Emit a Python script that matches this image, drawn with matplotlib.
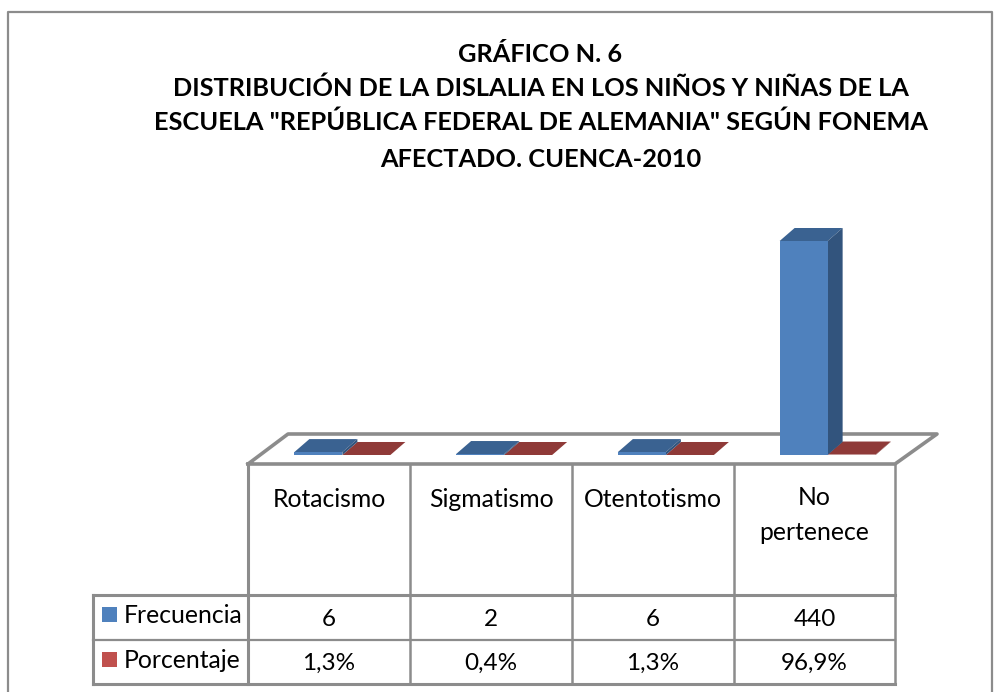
import numpy as np
import matplotlib
matplotlib.use('Agg')
import matplotlib.pyplot as plt
from matplotlib.patches import Polygon, Rectangle

plt.rcParams['font.family'] = ['Lato', 'DejaVu Sans']

categorias = ['Rotacismo', 'Sigmatismo', 'Otentotismo', 'No\npertenece']
frecuencia = [6, 2, 6, 440]
# stored as fractions, so they lie flat next to the counts
porcentaje = [0.013, 0.004, 0.013, 0.969]
porcentaje_txt = ['1,3%', '0,4%', '1,3%', '96,9%']
series = ['Frecuencia', 'Porcentaje']
titulo = ['GRÁFICO N. 6',
          'DISTRIBUCIÓN DE LA DISLALIA EN LOS NIÑOS Y NIÑAS DE LA',
          'ESCUELA "REPÚBLICA FEDERAL DE ALEMANIA" SEGÚN FONEMA',
          'AFECTADO. CUENCA-2010']

W, H = 994, 692
GRIS = '#8c8c8c'
AZUL = ('#4f81bd', '#3a6291', '#32547d')
ROJO = ('#c0504d', '#8f3a38', '#7a302e')

fig = plt.figure(figsize=(W / 100, H / 100), dpi=100, facecolor='white')

# axes in pixels for the frame, floor and table
px = fig.add_axes([0, 0, 1, 1])
px.set_xlim(0, W)
px.set_ylim(H, 0)
px.axis('off')


def linea(xs, ys, lw=2.2):
    px.plot(xs, ys, color=GRIS, lw=lw, solid_capstyle='projecting', zorder=1)


# outer frame, open at the bottom
linea([8, 8, 992, 992], [692, 12, 12, 692], lw=1.6)

# title
for y, t in zip([62, 96, 130, 167], titulo):
    px.text(540.5, y, t, ha='center', va='baseline', fontsize=18.3, fontweight='bold', color='black')

# floor
linea([248, 288, 937, 895, 248], [464, 434, 434, 464, 464], lw=2.6)

# table
col_x = [248, 410, 572, 734, 895]
linea([248, 248], [464, 684])
for x in col_x[1:]:
    linea([x, x], [464, 684], lw=1.8)
linea([93, 895], [595, 595])
linea([93, 895], [639.5, 639.5], lw=1.6)
linea([93, 895], [684, 684])
linea([93, 93], [595, 684])

for i, c in enumerate(categorias):
    xc = (col_x[i] + col_x[i + 1]) / 2
    px.text(xc, 540 if i == 3 else 507, c, ha='center', va='baseline', fontsize=17.8, linespacing=1.65)
    px.text(xc, 626, str(frecuencia[i]), ha='center', va='baseline', fontsize=17.5)
    px.text(xc, 670, porcentaje_txt[i], ha='center', va='baseline', fontsize=17.5)

for y, s, col in zip([607, 652], series, [AZUL[0], ROJO[0]]):
    px.add_patch(Rectangle((102, y), 15, 15, facecolor=col, edgecolor='none'))
    px.text(124, y + 16, s, ha='left', va='baseline', fontsize=17.8)

# bars: x in categories, y in frequency units
ax = fig.add_axes([248 / W, 1 - 455 / H, (895 - 248) / W, (455 - 241) / H])
ax.set_xlim(0, 4)
ax.set_ylim(0, 440)
ax.axis('off')
ax.patch.set_alpha(0)

ANCHO = 48 / 161.75
DESP = 13.5 / 161.75
DX = 15 / 161.75
DY = 13 / 214 * 440


def barra(x0, v, cols):
    x1 = x0 + ANCHO
    ax.add_patch(Polygon([(x0, v), (x0 + DX, v + DY), (x1 + DX, v + DY), (x1, v)],
                         facecolor=cols[1], edgecolor='none', clip_on=False, zorder=3))
    ax.add_patch(Polygon([(x1, 0), (x1 + DX, DY), (x1 + DX, v + DY), (x1, v)],
                         facecolor=cols[2], edgecolor='none', clip_on=False, zorder=3))
    ax.bar(x0, v, width=ANCHO, align='edge', color=cols[0], clip_on=False, zorder=4)


for i in range(len(categorias)):
    centro = i + 0.5 + DESP
    barra(centro, porcentaje[i], ROJO)
    barra(centro - ANCHO, frecuencia[i], AZUL)

fig.savefig('out.png', dpi=100)
